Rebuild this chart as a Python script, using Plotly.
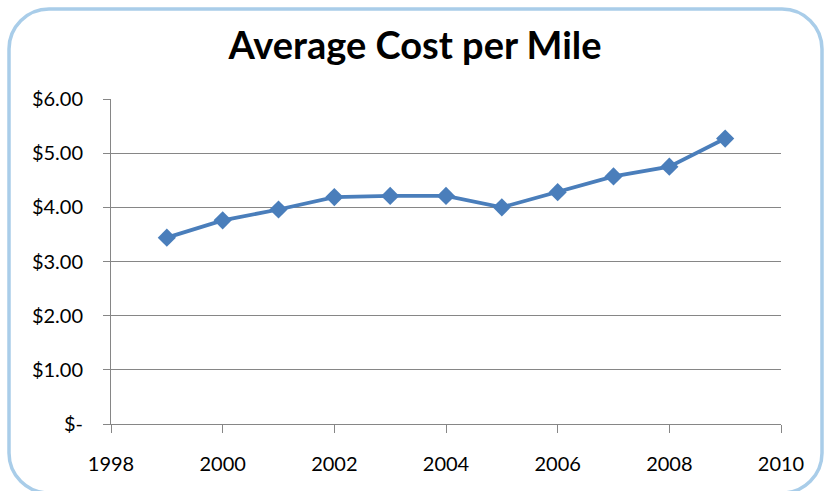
import plotly.graph_objects as go

# Average cost per mile by year
years = [1999, 2000, 2001, 2002, 2003, 2004, 2005, 2006, 2007, 2008, 2009]
cost_per_mile = [3.44, 3.76, 3.96, 4.19, 4.21, 4.21, 4.00, 4.28, 4.57, 4.75, 5.27]

x_ticks = [1998, 2000, 2002, 2004, 2006, 2008, 2010]
y_ticks = [0, 1, 2, 3, 4, 5, 6]
y_tick_text = ["$-", "$1.00", "$2.00", "$3.00", "$4.00", "$5.00", "$6.00"]

W, H = 830, 491
ML, MR, MT, MB = 111, 49, 99, 67
PW, PH = W - ML - MR, H - MT - MB


def px(x):
    return (x - ML) / PW


def py(y):
    return (H - MB - y) / PH


def rounded_rect(x0, y0, x1, y1, r):
    c = 0.552 * r  # cubic approximation of a quarter circle
    pts = [
        f"M {px(x0 + r)},{py(y0)}",
        f"L {px(x1 - r)},{py(y0)}",
        f"C {px(x1 - r + c)},{py(y0)} {px(x1)},{py(y0 + r - c)} {px(x1)},{py(y0 + r)}",
        f"L {px(x1)},{py(y1 - r)}",
        f"C {px(x1)},{py(y1 - r + c)} {px(x1 - r + c)},{py(y1)} {px(x1 - r)},{py(y1)}",
        f"L {px(x0 + r)},{py(y1)}",
        f"C {px(x0 + r - c)},{py(y1)} {px(x0)},{py(y1 - r + c)} {px(x0)},{py(y1 - r)}",
        f"L {px(x0)},{py(y0 + r)}",
        f"C {px(x0)},{py(y0 + r - c)} {px(x0 + r - c)},{py(y0)} {px(x0 + r)},{py(y0)}",
        "Z",
    ]
    return " ".join(pts)


fig = go.Figure()
fig.add_trace(go.Scatter(
    x=years, y=cost_per_mile, mode="lines+markers",
    line=dict(color="#4a7ebb", width=3.8),
    marker=dict(symbol="diamond", size=14, color="#4a7ebb"),
    showlegend=False, cliponaxis=False,
))

# chart-area frame
fig.add_shape(type="path", xref="paper", yref="paper",
              path=rounded_rect(9, 9, 822, 493, 40),
              line=dict(color="#a9cde9", width=3.5), fillcolor="rgba(0,0,0,0)",
              layer="below")

fig.update_layout(
    width=W, height=H,
    margin=dict(l=ML, r=MR, t=MT, b=MB),
    paper_bgcolor="white", plot_bgcolor="white",
    font=dict(family="Lato, sans-serif", color="black"),
    title=dict(text="<b>Average Cost per Mile</b>", x=0.5, xref="container",
               xanchor="center", y=1 - 46 / H, yanchor="middle",
               font=dict(size=38, family="Lato, sans-serif")),
    xaxis=dict(range=[1998, 2010], tickvals=x_ticks, ticktext=[str(v) for v in x_ticks],
               showgrid=False, zeroline=False, showline=True, linecolor="#868686",
               ticks="outside", ticklen=8, tickcolor="#868686",
               tickfont=dict(size=20), ticklabelstandoff=14, fixedrange=True),
    yaxis=dict(range=[0, 6], tickvals=y_ticks, ticktext=y_tick_text,
               showgrid=True, gridcolor="#868686", gridwidth=1,
               zeroline=False, showline=True, linecolor="#868686",
               ticks="outside", ticklen=7, tickcolor="#868686",
               tickfont=dict(size=20), ticklabelstandoff=16, fixedrange=True),
)

fig.write_html("out.html")
